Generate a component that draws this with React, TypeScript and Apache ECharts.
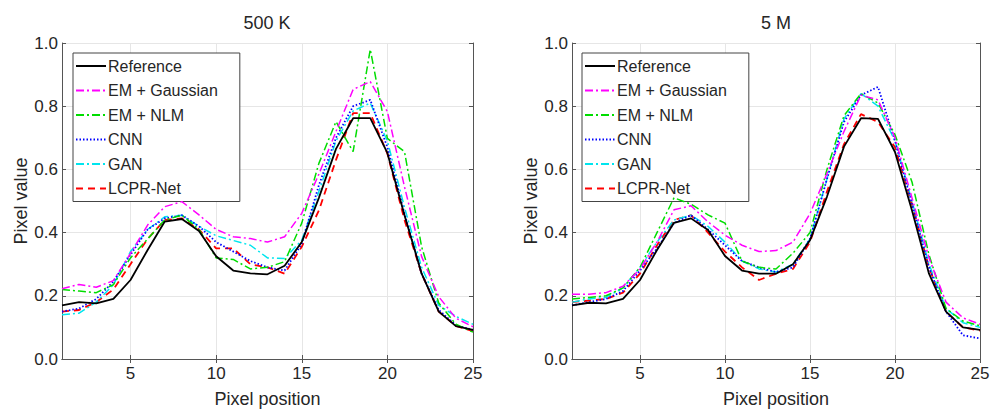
import React, { useEffect, useRef } from "react";
import * as echarts from "echarts";

const positions = [1, 2, 3, 4, 5, 6, 7, 8, 9, 10, 11, 12, 13, 14, 15, 16, 17, 18, 19, 20, 21, 22, 23, 24, 25];
const xTicks = [5, 10, 15, 20, 25];
const panelTitles = ["500 K", "5 M"];
const seriesNames = ["Reference", "EM + Gaussian", "EM + NLM", "CNN", "GAN", "LCPR-Net"];

// 500 K panel
const ref500K = [0.17, 0.18, 0.176, 0.19, 0.25, 0.345, 0.435, 0.443, 0.405, 0.325, 0.28, 0.271, 0.268, 0.295, 0.37, 0.51, 0.665, 0.762, 0.762, 0.652, 0.455, 0.27, 0.15, 0.104, 0.092];
const gauss500K = [0.222, 0.236, 0.227, 0.248, 0.334, 0.424, 0.482, 0.498, 0.456, 0.41, 0.387, 0.381, 0.37, 0.387, 0.461, 0.585, 0.72, 0.853, 0.878, 0.783, 0.545, 0.324, 0.197, 0.129, 0.102];
const nlm500K = [0.22, 0.215, 0.21, 0.235, 0.32, 0.38, 0.44, 0.455, 0.41, 0.32, 0.315, 0.285, 0.29, 0.308, 0.43, 0.619, 0.751, 0.656, 0.98, 0.698, 0.656, 0.355, 0.177, 0.11, 0.085];
const cnn500K = [0.15, 0.16, 0.19, 0.245, 0.33, 0.41, 0.445, 0.455, 0.42, 0.37, 0.34, 0.31, 0.29, 0.28, 0.365, 0.55, 0.7, 0.8, 0.82, 0.67, 0.46, 0.27, 0.155, 0.107, 0.092];
const gan500K = [0.14, 0.145, 0.18, 0.235, 0.34, 0.41, 0.45, 0.455, 0.42, 0.39, 0.375, 0.36, 0.32, 0.318, 0.376, 0.53, 0.69, 0.785, 0.81, 0.69, 0.48, 0.29, 0.17, 0.135, 0.11];
const lcpr500K = [0.15, 0.155, 0.18, 0.22, 0.3, 0.38, 0.44, 0.445, 0.41, 0.35, 0.35, 0.3, 0.29, 0.27, 0.355, 0.47, 0.63, 0.778, 0.778, 0.65, 0.44, 0.27, 0.15, 0.105, 0.088];

// 5 M panel
const ref5M = [0.17, 0.178, 0.176, 0.19, 0.25, 0.345, 0.431, 0.445, 0.408, 0.326, 0.28, 0.27, 0.27, 0.3, 0.376, 0.514, 0.672, 0.762, 0.76, 0.655, 0.47, 0.27, 0.15, 0.1, 0.092];
const gauss5M = [0.205, 0.205, 0.21, 0.23, 0.285, 0.37, 0.472, 0.485, 0.434, 0.392, 0.36, 0.34, 0.343, 0.37, 0.46, 0.587, 0.72, 0.835, 0.82, 0.7, 0.51, 0.32, 0.18, 0.13, 0.11];
const nlm5M = [0.19, 0.195, 0.2, 0.225, 0.29, 0.4, 0.51, 0.49, 0.456, 0.43, 0.31, 0.29, 0.285, 0.335, 0.4, 0.6, 0.77, 0.84, 0.81, 0.71, 0.56, 0.33, 0.16, 0.12, 0.105];
const cnn5M = [0.17, 0.18, 0.19, 0.215, 0.28, 0.35, 0.43, 0.455, 0.41, 0.36, 0.31, 0.29, 0.275, 0.29, 0.38, 0.57, 0.75, 0.835, 0.861, 0.69, 0.49, 0.29, 0.15, 0.075, 0.065];
const gan5M = [0.18, 0.19, 0.195, 0.225, 0.29, 0.37, 0.44, 0.455, 0.42, 0.37, 0.31, 0.285, 0.275, 0.3, 0.38, 0.57, 0.76, 0.84, 0.8, 0.69, 0.5, 0.3, 0.16, 0.115, 0.1];
const lcpr5M = [0.18, 0.185, 0.19, 0.21, 0.27, 0.36, 0.44, 0.455, 0.4, 0.34, 0.29, 0.25, 0.27, 0.285, 0.37, 0.53, 0.68, 0.775, 0.75, 0.67, 0.49, 0.29, 0.15, 0.1, 0.09];

const panelData = [
  [ref500K, gauss500K, nlm500K, cnn500K, gan500K, lcpr500K],
  [ref5M, gauss5M, nlm5M, cnn5M, gan5M, lcpr5M],
];

const lineStyles: any[] = [
  { color: "#000000", width: 1.8, type: "solid" },
  { color: "#ff00ff", width: 1.5, type: [8, 3, 2, 3] },
  { color: "#00dd00", width: 1.5, type: [8, 3, 2, 3] },
  { color: "#0000ff", width: 1.8, type: [1.5, 2] },
  { color: "#00e5ee", width: 1.5, type: [8, 3, 2, 3] },
  { color: "#ff0000", width: 1.8, type: [7, 5] },
];

const FONT = "'Liberation Sans', Arial, Helvetica, sans-serif";
const AXIS_COLOR = "#555555";
const TEXT_COLOR = "#262626";

export default function App() {
  const ref = useRef<HTMLDivElement>(null);
  useEffect(() => {
    if (!ref.current) return;
    const chart = echarts.init(ref.current, null, { renderer: "svg" });
    const grids = [
      { left: 62, right: 519, top: 43, bottom: 51 },
      { left: 572, right: 12, top: 43, bottom: 51 },
    ];
    const xAxes: any[] = [];
    const yAxes: any[] = [];
    grids.forEach((_, gi) => {
      xAxes.push({
        type: "value",
        gridIndex: gi,
        position: "bottom",
        min: 1,
        max: 25,
        name: "Pixel position",
        nameLocation: "middle",
        nameGap: 31,
        nameTextStyle: { fontFamily: FONT, fontSize: 18, color: TEXT_COLOR },
        axisLine: { show: true, lineStyle: { color: AXIS_COLOR, width: 1 } },
        axisTick: { show: true, inside: true, length: 4, customValues: xTicks, lineStyle: { color: AXIS_COLOR } },
        axisLabel: { show: true, customValues: xTicks, margin: 6, fontFamily: FONT, fontSize: 17, color: TEXT_COLOR },
        splitLine: { show: true, lineStyle: { color: "#e6e6e6", width: 1 } },
      });
      xAxes.push({
        type: "value",
        gridIndex: gi,
        position: "top",
        min: 1,
        max: 25,
        axisLine: { show: true, lineStyle: { color: AXIS_COLOR, width: 1 } },
        axisTick: { show: true, inside: true, length: 4, customValues: xTicks, lineStyle: { color: AXIS_COLOR } },
        axisLabel: { show: false },
        splitLine: { show: false },
      });
      yAxes.push({
        type: "value",
        gridIndex: gi,
        position: "left",
        min: 0,
        max: 1,
        interval: 0.2,
        name: "Pixel value",
        nameLocation: "middle",
        nameRotate: 90,
        nameGap: 30,
        nameTextStyle: { fontFamily: FONT, fontSize: 18, color: TEXT_COLOR },
        axisLine: { show: true, lineStyle: { color: AXIS_COLOR, width: 1 } },
        axisTick: { show: true, inside: true, length: 4, lineStyle: { color: AXIS_COLOR } },
        axisLabel: { show: true, margin: 4, fontFamily: FONT, fontSize: 17, color: TEXT_COLOR, formatter: (v: number) => v.toFixed(1) },
        splitLine: { show: true, lineStyle: { color: "#e6e6e6", width: 1 } },
      });
      yAxes.push({
        type: "value",
        gridIndex: gi,
        position: "right",
        min: 0,
        max: 1,
        interval: 0.2,
        axisLine: { show: true, lineStyle: { color: AXIS_COLOR, width: 1 } },
        axisTick: { show: true, inside: true, length: 4, lineStyle: { color: AXIS_COLOR } },
        axisLabel: { show: false },
        splitLine: { show: false },
      });
    });

    const series: any[] = [];
    panelData.forEach((arrs, gi) => {
      arrs.forEach((vals, si) => {
        series.push({
          type: "line",
          name: seriesNames[si],
          xAxisIndex: gi * 2,
          yAxisIndex: gi * 2,
          data: positions.map((p, i) => [p, vals[i]]),
          showSymbol: false,
          symbol: "none",
          lineStyle: lineStyles[si],
          itemStyle: { color: lineStyles[si].color },
          color: lineStyles[si].color,
          z: 10 - si,
        });
      });
    });

    const legendBase = (left: number) => ({
      orient: "vertical",
      left,
      top: 53,
      data: seriesNames,
      itemWidth: 30,
      itemHeight: 16,
      itemGap: 8.5,
      itemStyle: { opacity: 0 },
      backgroundColor: "#ffffff",
      borderColor: "#444444",
      borderWidth: 1,
      borderRadius: 0,
      padding: [5, 22, 5, 2],
      textStyle: { fontFamily: FONT, fontSize: 16, color: TEXT_COLOR, padding: [0, 0, 0, -3] },
      selectedMode: false,
    });

    chart.setOption({
      animation: false,
      backgroundColor: "#ffffff",
      grid: grids.map((g) => ({ ...g, containLabel: false, outerBoundsMode: "none" })),
      xAxis: xAxes,
      yAxis: yAxes,
      legend: [legendBase(73), legendBase(582)],
      graphic: panelTitles.map((t, i) => ({
        type: "text",
        x: i === 0 ? 267 : 776,
        y: 23,
        style: { text: t, textAlign: "center", textVerticalAlign: "middle", font: `18px ${FONT}`, fill: TEXT_COLOR },
      })),
      series,
    });
    return () => chart.dispose();
  }, []);
  return <div ref={ref} style={{ width: 992, height: 410, position: "absolute", left: 0, top: 0 }} />;
}
